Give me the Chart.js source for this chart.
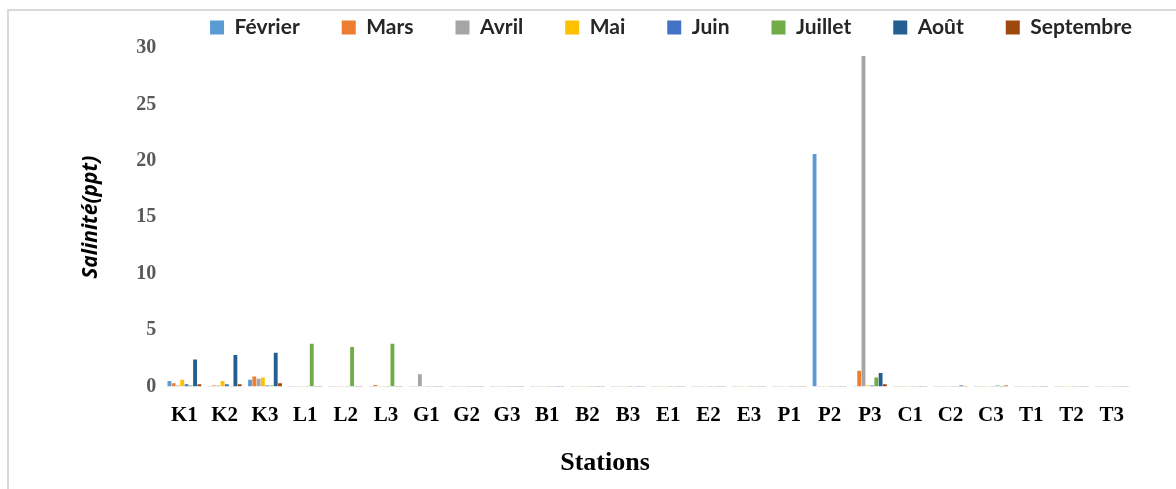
<!DOCTYPE html>
<html>
<head>
<meta charset="utf-8">
<script src="https://cdn.jsdelivr.net/npm/chart.js@4.4.1/dist/chart.umd.min.js"></script>
<style>
  html, body { margin: 0; padding: 0; background: #fff; }
  #frame {
    position: absolute; left: 7px; top: 9px; width: 1200px; height: 520px;
    border: 2px solid #d9d9d9; box-sizing: border-box;
  }
  #wrap { position: absolute; left: 0; top: 0; width: 1176px; height: 489px; }
</style>
</head>
<body>
<div id="frame"></div>
<div id="wrap"><canvas id="salChart" width="1176" height="489"></canvas></div>
<script>
// Stations and monthly salinity (ppt)
const stations = ["K1","K2","K3","L1","L2","L3","G1","G2","G3","B1","B2","B3",
                  "E1","E2","E3","P1","P2","P3","C1","C2","C3","T1","T2","T3"];
const months = ["Février","Mars","Avril","Mai","Juin","Juillet","Août","Septembre"];
const colors = ["#5B9BD5","#ED7D31","#A5A5A5","#FFC000","#4472C4","#70AD47","#255E91","#9E480E"];

const fevrier   = [0.5,0.05,0.6,0.05,0.05,0.05,0.05,0.05,0.05,0.05,0.05,0.05,0.05,0.05,0.05,0.05,20.6,0.05,0.05,0.05,0.05,0.05,0.05,0.05];
const mars      = [0.3,0.1,0.9,0.05,0.05,0.15,0.05,0.05,0.05,0.05,0.05,0.05,0.05,0.05,0.05,0.05,0.05,1.4,0.05,0.05,0.05,0.05,0.05,0.05];
const avril     = [0.1,0.1,0.7,0.05,0.05,0.05,1.1,0.05,0.05,0.05,0.05,0.05,0.05,0.05,0.05,0.05,0.05,29.3,0.05,0.05,0.05,0.05,0.05,0.05];
const mai       = [0.6,0.5,0.8,0.05,0.05,0.05,0.05,0.05,0.05,0.05,0.05,0.05,0.05,0.05,0.05,0.05,0.05,0.1,0.05,0.05,0.05,0.05,0.05,0.05];
const juin      = [0.2,0.2,0.1,0.05,0.05,0.05,0.05,0.05,0.05,0.05,0.05,0.05,0.05,0.05,0.05,0.05,0.05,0.1,0.05,0.05,0.05,0.05,0.05,0.05];
const juillet   = [0.1,0.05,0.1,3.8,3.5,3.8,0.05,0.05,0.05,0.05,0.05,0.05,0.05,0.05,0.05,0.05,0.05,0.8,0.05,0.05,0.1,0.05,0.05,0.05];
const aout      = [2.4,2.8,3.0,0.05,0.05,0.05,0.05,0.05,0.05,0.05,0.05,0.05,0.05,0.05,0.05,0.05,0.05,1.2,0.05,0.1,0.05,0.05,0.05,0.05];
const septembre = [0.2,0.2,0.3,0.05,0.05,0.05,0.05,0.05,0.05,0.05,0.05,0.05,0.05,0.05,0.05,0.05,0.05,0.2,0.05,0.05,0.1,0.05,0.05,0.05];
const yTicks = [0, 5, 10, 15, 20, 25, 30];

const series = [fevrier, mars, avril, mai, juin, juillet, aout, septembre];

// nudge the legend to the right, like the original
const legendShift = {
  id: "legendShift",
  afterLayout(chart) {
    chart.legend.left += 66;
    chart.legend.right += 66;
  },
};

const ctx = document.getElementById("salChart").getContext("2d");
new Chart(ctx, {
  type: "bar",
  data: {
    labels: stations,
    datasets: series.map((vals, i) => ({
      label: months[i],
      data: vals,
      backgroundColor: colors[i],
      borderWidth: 0,
    })),
  },
  options: {
    responsive: false,
    animation: false,
    layout: { padding: { left: 78, right: 44, top: -25, bottom: 10 } },
    datasets: { bar: { categoryPercentage: 0.85, barPercentage: 0.9 } },
    plugins: {
      tooltip: { enabled: false },
      legend: {
        position: "top",
        labels: {
          boxWidth: 14,
          boxHeight: 14,
          padding: 42,
          color: "#262626",
          font: { family: "Lato", size: 21, weight: "bold" },
        },
      },
      // axis title as a bottom title so it centres like the original
      title: {
        display: true,
        position: "bottom",
        text: "Stations",
        color: "#000",
        padding: { top: 12, bottom: 0 },
        font: { family: "Liberation Serif", size: 26, weight: "bold" },
      },
    },
    scales: {
      x: {
        grid: { display: false },
        border: { display: false },
        ticks: {
          color: "#000",
          padding: 8,
          maxRotation: 0,
          autoSkip: false,
          font: { family: "Liberation Serif", size: 21, weight: "bold" },
        },
      },
      y: {
        min: 0,
        max: 30,
        afterBuildTicks: (scale) => {
          scale.ticks = yTicks.map((v) => ({ value: v }));
        },
        grid: { display: false },
        border: { display: false },
        ticks: {
          color: "#595959",
          padding: 0,
          font: { family: "Liberation Serif", size: 20, weight: "bold" },
        },
        title: {
          display: true,
          text: "Salinité(ppt)",
          color: "#000",
          padding: { top: 0, bottom: 33 },
          font: { family: "Open Sans", size: 21, weight: "bold", style: "italic" },
        },
      },
    },
  },
  plugins: [legendShift],
});
</script>
</body>
</html>
